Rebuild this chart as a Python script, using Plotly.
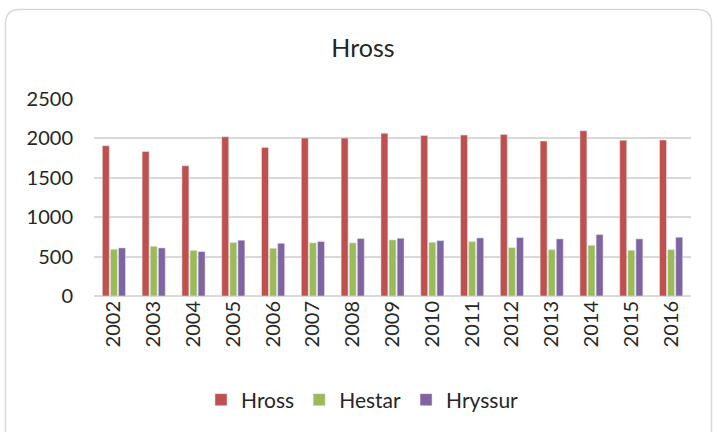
import plotly.graph_objects as go

years = ["2002", "2003", "2004", "2005", "2006", "2007", "2008", "2009",
         "2010", "2011", "2012", "2013", "2014", "2015", "2016"]
hross = [1907, 1835, 1653, 2021, 1886, 2004, 2004, 2064, 2038, 2042, 2051, 1966, 2097, 1975, 1979]
hestar = [593, 631, 580, 678, 606, 674, 674, 712, 682, 691, 614, 589, 644, 581, 589]
hryssur = [610, 610, 564, 708, 669, 691, 729, 733, 703, 737, 742, 725, 780, 725, 746]
y_ticks = [0, 500, 1000, 1500, 2000, 2500]

W, H = 713, 432
L, R, T, B = 94, 22, 99, 136
pw, ph = W - L - R, H - T - B

FONT = "Lato, 'Open Sans', sans-serif"
TXT = "#262626"

fig = go.Figure()
fig.add_trace(go.Bar(name="Hross", x=years, y=hross, marker_color="#C0504D"))
fig.add_trace(go.Bar(name="Hestar", x=years, y=hestar, marker_color="#9BBB59"))
fig.add_trace(go.Bar(name="Hryssur", x=years, y=hryssur, marker_color="#8064A2"))


def px(x):
    return (x - L) / pw


def py(y):
    return (H - B - y) / ph


# rounded chart frame
x0, x1, y0, y1, r = 5.5, 711.5, 9.5, 440, 14
path = (f"M{px(x0)},{py(y0 + r)} Q{px(x0)},{py(y0)} {px(x0 + r)},{py(y0)} "
        f"L{px(x1 - r)},{py(y0)} Q{px(x1)},{py(y0)} {px(x1)},{py(y0 + r)} "
        f"L{px(x1)},{py(y1)} L{px(x0)},{py(y1)} Z")

fig.update_layout(
    width=W, height=H,
    margin=dict(l=L, r=R, t=T, b=B, pad=0),
    paper_bgcolor="white", plot_bgcolor="white",
    barmode="group", bargap=0.39, bargroupgap=0.14,
    font=dict(family=FONT, size=20, color=TXT),
    title=dict(text="Hross", x=363 / W, xanchor="center", y=1 - 48 / H, yanchor="middle",
               font=dict(family=FONT, size=25, color=TXT)),
    legend=dict(orientation="h", x=0.5 + 6 / W, xanchor="center", xref="container",
                y=1 - 400 / H, yanchor="middle", yref="container",
                font=dict(family=FONT, size=21, color=TXT), traceorder="normal"),
    shapes=[dict(type="path", path=path, xref="paper", yref="paper",
                 line=dict(color="#d9d9d9", width=1.5), layer="below")],
    xaxis=dict(type="category", tickangle=-90, showgrid=False, showline=False,
               ticks="", tickfont=dict(family=FONT, size=20, color=TXT)),
    yaxis=dict(range=[0, 2500], tickvals=y_ticks, showgrid=True, gridcolor="#d9d9d9",
               gridwidth=1.5, zeroline=True, zerolinecolor="#d9d9d9", zerolinewidth=1.5,
               showline=False, ticks="", ticklabelstandoff=20,
               tickfont=dict(family=FONT, size=20, color=TXT)),
)

fig.write_html("out.html", config={"displayModeBar": False},
               post_script="document.body.style.margin='0';document.body.style.overflow='hidden';")
